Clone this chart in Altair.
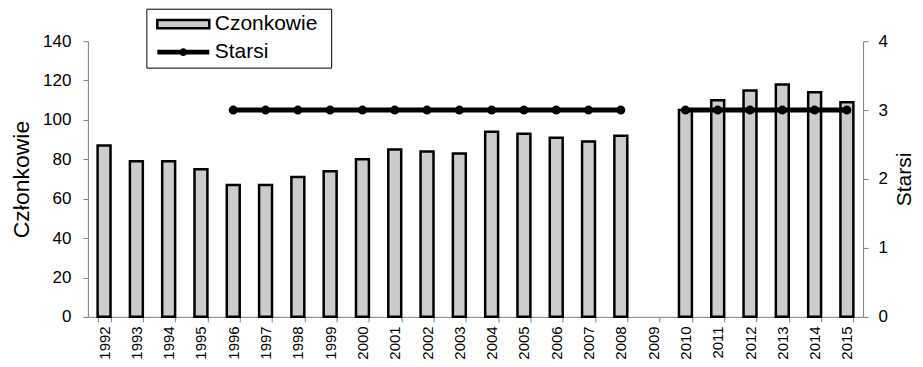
import altair as alt
import pandas as pd

years = [str(y) for y in range(1992, 2016)]
czlonkowie = [87, 79, 79, 75, 67, 67, 71, 74, 80, 85, 84, 83, 94, 93, 91, 89, 92,
              None, 105, 110, 115, 118, 114, 109]
starsi = [None, None, None, None, 3, 3, 3, 3, 3, 3, 3, 3, 3, 3, 3, 3, 3,
          None, 3, 3, 3, 3, 3, 3]
left_ticks = [0, 20, 40, 60, 80, 100, 120, 140]
right_ticks = [0, 1, 2, 3, 4]

df = pd.DataFrame({"Rok": years, "Czlonkowie": czlonkowie, "Starsi": starsi})
df["s_bar"] = "Czonkowie"
df["s_line"] = "Starsi"

FONT = "Liberation Sans"
GRAY = "#808080"

x = alt.X("Rok:O", sort=years,
          scale=alt.Scale(domain=years, paddingInner=0.6, paddingOuter=0.3),
          axis=alt.Axis(title=None, labelAngle=270, labelAlign="right", labelBaseline="middle",
                        labelFontSize=15, labelPadding=4, tickBand="extent",
                        domainColor=GRAY, tickColor=GRAY, tickSize=5))

base = alt.Chart(df)

# legend symbols: unit size 13 px, path drawn 4x wider than the unit box
BAR_SYM = "M-4,-0.64H4V0.64H-4Z"
LINE_SYM = ("M-4,-0.38H4V0.38H-4Z "
            "M-0.6,0 A0.6,0.6 0 1,1 0.6,0 A0.6,0.6 0 1,1 -0.6,0Z")

bars = base.mark_bar(stroke="black", strokeWidth=2.5).encode(
    x=x,
    y=alt.Y("Czlonkowie:Q", scale=alt.Scale(domain=[0, 140], nice=False),
            axis=alt.Axis(title="Członkowie", values=left_ticks, grid=False, titleFontSize=23,
                          titleFontWeight="normal", labelFontSize=17, titlePadding=9,
                          domainColor=GRAY, tickColor=GRAY, tickSize=5, labelPadding=12)),
    fill=alt.Fill("s_bar:N", scale=alt.Scale(domain=["Czonkowie"], range=["#cccccc"]),
                  legend=alt.Legend(title=None, orient="none", legendX=85, legendY=-27.5,
                                    symbolType=BAR_SYM, symbolSize=169,
                                    symbolStrokeColor="black", symbolStrokeWidth=2.5,
                                    symbolFillColor="#cccccc",
                                    labelFontSize=21, labelOffset=21, padding=0)),
)

line = base.mark_line(strokeWidth=5, point=alt.OverlayMarkDef(filled=True, fill="black", size=50)).encode(
    x=x,
    y=alt.Y("Starsi:Q", scale=alt.Scale(domain=[0, 4], nice=False),
            axis=alt.Axis(title="Starsi", orient="right", values=right_ticks, grid=False,
                          titleFontSize=21, titleFontWeight="normal", titleAngle=270,
                          titleBaseline="top",
                          labelFontSize=17, titlePadding=6, domainColor=GRAY, tickColor=GRAY,
                          tickSize=5, labelPadding=10)),
    stroke=alt.Stroke("s_line:N", scale=alt.Scale(domain=["Starsi"], range=["black"]),
                      legend=alt.Legend(title=None, orient="none", legendX=85, legendY=0.5,
                                        symbolType=LINE_SYM,
                                        symbolSize=169, symbolFillColor="black",
                                        symbolStrokeColor="black", symbolStrokeWidth=0,
                                        labelFontSize=21, labelOffset=21, padding=0)),
)

box = alt.Chart(pd.DataFrame({"a": [0]})).mark_rect(fill="white", stroke="black", strokeWidth=1).encode(
    x=alt.value(59), x2=alt.value(244), y=alt.value(-32), y2=alt.value(27)
)

chart = alt.layer(box, bars, line).resolve_scale(
    y="independent", fill="independent", stroke="independent"
).properties(
    width=776, height=276,
    padding={"left": 2, "top": 0, "right": 0, "bottom": 0}
).configure(font=FONT).configure_view(stroke=None).configure_axis(
    labelColor="black", titleColor="black", labelFont=FONT, titleFont=FONT
).configure_legend(labelFont=FONT, labelColor="black")

chart.save("out.html", embed_options={"renderer": "svg", "actions": False})
